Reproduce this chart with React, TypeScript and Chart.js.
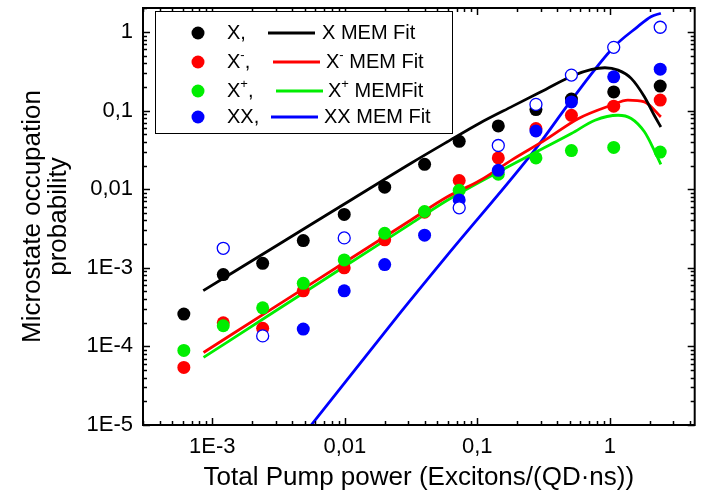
import React, { useEffect, useRef } from 'react';
import { Chart, registerables } from 'chart.js';

Chart.register(...registerables);

// ---------- data ----------
const pumpPower = [6.1e-4, 1.21e-3, 2.4e-3, 4.86e-3, 9.9e-3, 0.02, 0.04, 0.073, 0.144, 0.277, 0.513, 1.07, 2.4];
const probX = [2.58e-4, 8.2e-4, 1.14e-3, 2.22e-3, 4.77e-3, 0.0106, 0.0207, 0.0407, 0.0638, 0.103, 0.14, 0.173, 0.205];
const probXminus = [5.4e-5, 2.0e-4, 1.7e-4, 5.1e-4, 1.0e-3, 2.27e-3, 5.1e-3, 0.0129, 0.025, 0.059, 0.087, 0.114, 0.136];
const probXplus = [8.9e-5, 1.83e-4, 3.1e-4, 6.35e-4, 1.26e-3, 2.75e-3, 5.2e-3, 9.7e-3, 0.0155, 0.025, 0.031, 0.034, 0.0297];
const probXX = [null, null, null, 1.66e-4, 5.1e-4, 1.1e-3, 2.6e-3, 7.3e-3, 0.0174, 0.055, 0.129, 0.269, 0.337];
const probXXopen = [null, 1.77e-3, 1.36e-4, null, 2.4e-3, null, null, 5.8e-3, 0.036, 0.12, 0.283, 0.638, 1.15];

const fitXPower = [8.55e-4, 3.16e-3, 0.01, 0.0316, 0.059, 0.104, 0.185, 0.328, 0.519, 0.731, 0.918, 1.153, 1.449, 1.824, 2.163, 2.427];
const fitXProb = [5.13e-4, 1.98e-3, 6.52e-3, 0.0214, 0.0398, 0.0692, 0.114, 0.186, 0.275, 0.334, 0.351, 0.327, 0.257, 0.15, 0.0873, 0.0619];

const fitXminusPower = [8.59e-4, 3.16e-3, 0.01, 0.0316, 0.059, 0.1045, 0.185, 0.328, 0.581, 1.028, 1.368, 1.824, 2.427];
const fitXminusProb = [8.36e-5, 3.4e-4, 1.175e-3, 4.06e-3, 7.94e-3, 0.0129, 0.024, 0.0427, 0.0794, 0.117, 0.136, 0.129, 0.0832];

const fitXplusPower = [8.59e-4, 3.16e-3, 0.01, 0.0316, 0.059, 0.144, 0.277, 0.513, 0.773, 1.153, 1.449, 1.824, 2.163, 2.427];
const fitXplusProb = [7.24e-5, 2.99e-4, 1.045e-3, 3.65e-3, 7.19e-3, 0.0166, 0.0297, 0.0511, 0.0755, 0.0873, 0.0794, 0.0537, 0.0313, 0.0207];

const fitXXPower = [4.47e-3, 5.52e-3, 0.0251, 0.059, 0.277, 0.513, 1.076, 1.626, 2.042, 2.427];
const fitXXProb = [6.3e-6, 9.77e-6, 2.45e-4, 1.43e-3, 0.0331, 0.136, 0.65, 1.17, 1.567, 1.73];

const xTickValues = [1e-3, 0.01, 0.1, 1];
const xTickLabels = ['1E-3', '0,01', '0,1', '1'];
const yTickValues = [1e-5, 1e-4, 1e-3, 0.01, 0.1, 1];
const yTickLabels = ['1E-5', '1E-4', '1E-3', '0,01', '0,1', '1'];

const FONT = '"Liberation Sans", Arial, sans-serif';
const BLACK = '#000000';
const RED = '#ff0000';
const GREEN = '#00ee00';
const BLUE = '#0000ff';

const pts = (xs: number[], ys: (number | null)[]) =>
  xs.map((x, i) => ({ x, y: ys[i] })).filter((p) => p.y !== null);

type Part = [string, boolean];
const legendRows: { color: string; label: Part[]; fit: Part[]; lineX: [number, number]; fitX: number }[] = [
  { color: BLACK, label: [['X,', false]], fit: [['X MEM Fit', false]], lineX: [268, 315], fitX: 322 },
  { color: RED, label: [['X', false], ['-', true], [',', false]], fit: [['X', false], ['-', true], [' MEM Fit', false]], lineX: [273, 320], fitX: 326 },
  { color: GREEN, label: [['X', false], ['+', true], [',', false]], fit: [['X', false], ['+', true], [' MEMFit', false]], lineX: [276, 323], fitX: 328 },
  { color: BLUE, label: [['XX,', false]], fit: [['XX MEM Fit', false]], lineX: [271, 318], fitX: 324 },
];
const legendRowY = [33, 62, 91, 117];

function drawRich(ctx: CanvasRenderingContext2D, x: number, y: number, parts: Part[]) {
  let cx = x;
  for (const [t, sup] of parts) {
    ctx.font = sup ? `13px ${FONT}` : `20px ${FONT}`;
    ctx.fillText(t, cx, sup ? y - 7 : y);
    cx += ctx.measureText(t).width;
  }
}

const decorPlugin = {
  id: 'decor',
  afterDraw(chart: any) {
    const { ctx, chartArea: a, scales } = chart;
    const xs = scales.x;
    const ys = scales.y;
    ctx.save();
    ctx.strokeStyle = '#000';
    ctx.lineWidth = 1.5;
    const seg = (x1: number, y1: number, x2: number, y2: number) => {
      ctx.beginPath();
      ctx.moveTo(x1, y1);
      ctx.lineTo(x2, y2);
      ctx.stroke();
    };
    for (let e = -6; e <= 1; e++) {
      for (let m = 1; m <= 9; m++) {
        const v = m * Math.pow(10, e);
        const len = m === 1 ? 7 : 4;
        if (v >= xs.min && v <= xs.max) {
          const p = Math.round(xs.getPixelForValue(v)) + 0.5;
          seg(p, a.bottom, p, a.bottom - len);
          seg(p, a.top, p, a.top + len);
        }
        if (v >= ys.min && v <= ys.max) {
          const p = Math.round(ys.getPixelForValue(v)) + 0.5;
          seg(a.left, p, a.left + len, p);
          seg(a.right, p, a.right - len, p);
        }
      }
    }
    ctx.lineWidth = 2;
    ctx.strokeRect(a.left, a.top, a.right - a.left, a.bottom - a.top);

    // legend
    ctx.fillStyle = '#fff';
    ctx.fillRect(155, 11, 297, 122);
    ctx.lineWidth = 1;
    ctx.strokeStyle = '#000';
    ctx.strokeRect(155.5, 11.5, 297, 122);
    ctx.textBaseline = 'middle';
    ctx.textAlign = 'left';
    legendRows.forEach((r, i) => {
      const y = legendRowY[i];
      ctx.fillStyle = r.color;
      ctx.beginPath();
      ctx.arc(198, y, 6.5, 0, Math.PI * 2);
      ctx.fill();
      ctx.strokeStyle = r.color;
      ctx.lineWidth = 3;
      seg(r.lineX[0], y, r.lineX[1], y);
      ctx.fillStyle = '#000';
      drawRich(ctx, 227, y, r.label);
      drawRich(ctx, r.fitX, y, r.fit);
    });
    ctx.restore();
  },
};

const zeroPadding = (s: any) => {
  s.paddingTop = 0;
  s.paddingBottom = 0;
  s.paddingLeft = 0;
  s.paddingRight = 0;
};

export default function App() {
  const ref = useRef<HTMLCanvasElement | null>(null);
  useEffect(() => {
    if (!ref.current) return;
    const tickCb = (vals: number[], labels: string[]) => (v: any) => {
      const idx = vals.findIndex((t) => Math.abs(t - Number(v)) / t < 1e-6);
      return idx >= 0 ? labels[idx] : '';
    };
    const pointSet = (label: string, data: any[], color: string, order: number) => ({
      label,
      data,
      showLine: false,
      pointRadius: 6.5,
      pointHoverRadius: 6.5,
      pointBackgroundColor: color,
      pointBorderWidth: 0,
      pointBorderColor: color,
      order,
    });
    const lineSet = (label: string, data: any[], color: string) => ({
      label,
      data,
      showLine: true,
      borderColor: color,
      borderWidth: 2.8,
      pointRadius: 0,
      cubicInterpolationMode: 'monotone',
      fill: false,
      order: 10,
    });
    const chart = new Chart(ref.current, {
      type: 'scatter',
      data: {
        datasets: [
          lineSet('X MEM Fit', pts(fitXPower, fitXProb), BLACK),
          lineSet('X⁻ MEM Fit', pts(fitXminusPower, fitXminusProb), RED),
          lineSet('X⁺ MEMFit', pts(fitXplusPower, fitXplusProb), GREEN),
          lineSet('XX MEM Fit', pts(fitXXPower, fitXXProb), BLUE),
          pointSet('X', pts(pumpPower, probX), BLACK, 5),
          pointSet('X⁻', pts(pumpPower, probXminus), RED, 4),
          pointSet('X⁺', pts(pumpPower, probXplus), GREEN, 3),
          pointSet('XX', pts(pumpPower, probXX), BLUE, 2),
          {
            label: 'XX (open)',
            data: pts(pumpPower, probXXopen),
            showLine: false,
            pointRadius: 6,
            pointBackgroundColor: '#ffffff',
            pointBorderColor: BLUE,
            pointBorderWidth: 1.3,
            order: 1,
          },
        ] as any,
      },
      options: {
        responsive: false,
        animation: false,
        devicePixelRatio: 1,
        layout: { padding: { left: 0, top: 8, right: 1, bottom: 0 } },
        plugins: { legend: { display: false }, tooltip: { enabled: false } },
        scales: {
          x: {
            type: 'logarithmic',
            position: 'bottom',
            min: 3.06e-4,
            max: 4.37,
            grid: { display: false, drawTicks: false },
            border: { display: false },
            afterBuildTicks: (s: any) => {
              s.ticks = xTickValues.map((v) => ({ value: v, major: true }));
            },
            afterFit: (s: any) => {
              s.height = 78;
              zeroPadding(s);
            },
            ticks: {
              autoSkip: false,
              maxRotation: 0,
              minRotation: 0,
              padding: 9,
              color: '#000',
              font: { family: FONT, size: 22 },
              callback: tickCb(xTickValues, xTickLabels),
            },
            title: {
              display: true,
              text: 'Total Pump power (Excitons/(QD·ns))',
              color: '#000',
              font: { family: FONT, size: 26, lineHeight: 1 },
              padding: { top: 0, bottom: 12 },
            },
          },
          y: {
            type: 'logarithmic',
            position: 'left',
            min: 1e-5,
            max: 2.02,
            grid: { display: false, drawTicks: false },
            border: { display: false },
            afterBuildTicks: (s: any) => {
              s.ticks = yTickValues.map((v) => ({ value: v, major: true }));
            },
            afterFit: (s: any) => {
              s.width = 143;
              zeroPadding(s);
            },
            ticks: {
              autoSkip: false,
              padding: 10,
              color: '#000',
              font: { family: FONT, size: 22 },
              callback: tickCb(yTickValues, yTickLabels),
            },
            title: {
              display: true,
              text: ['Microstate occupation', 'probability'],
              color: '#000',
              font: { family: FONT, size: 26, lineHeight: 1 },
              padding: { top: 20, bottom: 0 },
            },
          },
        },
      } as any,
      plugins: [decorPlugin],
    });
    return () => chart.destroy();
  }, []);
  return (
    <canvas
      ref={ref}
      width={702}
      height={503}
      style={{ position: 'fixed', left: 0, top: 0, display: 'block', background: '#fff' }}
    />
  );
}
